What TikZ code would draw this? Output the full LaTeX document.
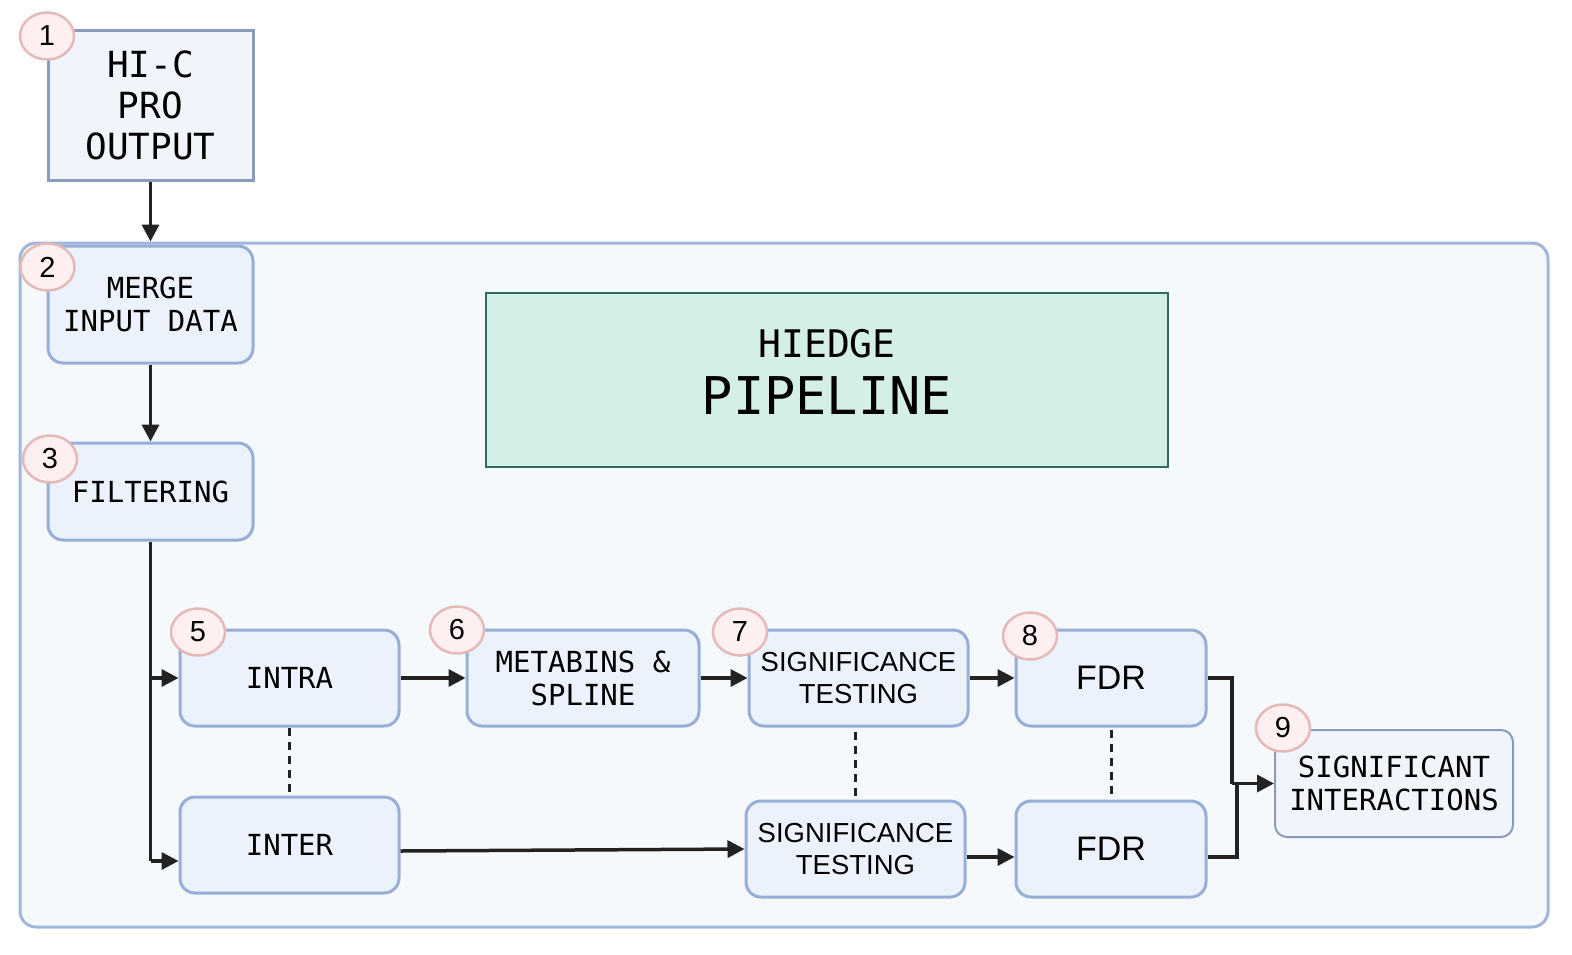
\documentclass[tikz,border=0pt]{standalone}
\usepackage{fontspec}
\setmainfont{Liberation Sans}
\setmonofont{DejaVu Sans Mono}
\usetikzlibrary{arrows.meta,shapes.geometric,calc}
\definecolor{outerfill}{HTML}{F6F9FC}
\definecolor{outerdraw}{HTML}{A0B6DA}
\definecolor{boxfill}{HTML}{ECF2FB}
\definecolor{boxdraw}{HTML}{97AFD6}
\definecolor{grayfill}{HTML}{F1F5FB}
\definecolor{graydraw}{HTML}{8A9BBD}
\definecolor{tealfill}{HTML}{D4EEE8}
\definecolor{tealdraw}{HTML}{2F6B5F}
\definecolor{badgefill}{HTML}{FEF0F0}
\definecolor{badgedraw}{HTML}{E6B9B9}
\definecolor{ink}{HTML}{222222}
\tikzset{
  monotext/.style={font=\ttfamily\fontsize{29}{33}\selectfont, align=center, text=black},
  stepbox/.style={rectangle, rounded corners=15pt, draw=boxdraw, fill=boxfill, line width=3pt, monotext},
  sansbox/.style={stepbox, font=\fontsize{27.5}{32}\selectfont},
  fdrbox/.style={stepbox, font=\fontsize{34}{36}\selectfont},
  badge/.style={ellipse, draw=badgedraw, fill=badgefill, line width=2.5pt, minimum width=54pt, minimum height=47pt, inner sep=0pt, font=\fontsize{29}{29}\selectfont},
  arr/.style={draw=ink, line width=3.5pt, -{Triangle[length=17pt,width=17pt]}},
  conn/.style={draw=ink, line width=3.5pt},
  dashconn/.style={draw=ink, line width=3pt, dash pattern=on 8pt off 6pt},
}
\begin{document}
\begin{tikzpicture}[x=1pt,y=-1pt]
\useasboundingbox (0,0) rectangle (1572,954);
% outer container
\node[rectangle, rounded corners=16pt, draw=outerdraw, fill=outerfill, line width=3pt, minimum width=1528pt, minimum height=684pt, inner sep=0pt] (outer) at (784,585) {};
% box 1
\node[rectangle, draw=graydraw, fill=grayfill, line width=3pt, minimum width=205pt, minimum height=150pt, font=\ttfamily\fontsize{36}{41}\selectfont, align=center] (hic) at (150.5,105) {HI-C\\PRO\\OUTPUT};
% steps
\node[stepbox, minimum width=205pt, minimum height=117pt] (merge) at (150.5,304.5) {MERGE\\INPUT DATA};
\node[stepbox, minimum width=205pt, minimum height=97pt] (filt) at (150.5,491.5) {FILTERING};
\node[stepbox, minimum width=219pt, minimum height=96pt] (intra) at (289.5,678) {INTRA};
\node[stepbox, minimum width=232pt, minimum height=96pt] (meta) at (583,678) {METABINS \&\\SPLINE};
\node[sansbox, minimum width=219pt, minimum height=96pt] (sig1) at (858.5,678) {SIGNIFICANCE\\TESTING};
\node[fdrbox, minimum width=190pt, minimum height=96pt] (fdr1) at (1111,678) {FDR};
\node[stepbox, minimum width=219pt, minimum height=96pt] (inter) at (289.5,845) {INTER};
\node[sansbox, minimum width=219pt, minimum height=96pt] (sig2) at (855.5,849) {SIGNIFICANCE\\TESTING};
\node[fdrbox, minimum width=190pt, minimum height=96pt] (fdr2) at (1111,849) {FDR};
\node[rectangle, rounded corners=12pt, draw=graydraw, fill=grayfill, line width=2pt, monotext, minimum width=238pt, minimum height=107pt] (sigint) at (1394,783.5) {SIGNIFICANT\\INTERACTIONS};
% title
\node[rectangle, draw=tealdraw, fill=tealfill, line width=2pt, minimum width=682pt, minimum height=174pt] (title) at (827,380) {};
\node[font=\ttfamily\fontsize{38}{40}\selectfont] (titleA) at (827,344) {HIEDGE};
\node[font=\ttfamily\fontsize{52}{56}\selectfont] (titleB) at (827,396) {PIPELINE};
% connectors
\draw[arr] (hic.south) -- (hic.south |- outer.north);
\draw[arr] (merge.south) -- (filt.north);
\coordinate (trunkA) at (150.5,678);
\coordinate (trunkB) at (150.5,861);
\draw[conn] (filt.south) -- (trunkB);
\draw[arr] (trunkA) -- (intra.west);
\draw[arr] (trunkB) -- (inter.west |- trunkB);
\draw[arr] (intra.east) -- (meta.west);
\draw[arr] (meta.east) -- (sig1.west);
\draw[arr] (sig1.east) -- (fdr1.west);
\draw[arr] ($(inter.east)+(0,6)$) -- (sig2.west);
\draw[arr] ($(sig2.east)+(0,8)$) -- ($(fdr2.west)+(0,8)$);
\coordinate (join) at (1232,783.5);
\draw[conn] (fdr1.east) -| (join);
\draw[conn] ($(fdr2.east)+(0,8)$) -| (1237,782);
\draw[arr] (join) -- (sigint.west);
\draw[dashconn] (intra.south) -- (inter.north);
\draw[dashconn] ($(sig2.north |- sig1.south)+(0,4)$) -- ($(sig2.north)+(0,-4)$);
\draw[dashconn] ($(fdr1.south)+(0,2)$) -- ($(fdr2.north)+(0,-2)$);
% badges
\node[badge] (b1) at (47,36) {1};
\node[badge] (b2) at (47.5,267) {2};
\node[badge] (b3) at (50,459) {3};
\node[badge] (b5) at (198,632) {5};
\node[badge] (b6) at (457,630) {6};
\node[badge] (b7) at (740,632) {7};
\node[badge] (b8) at (1030,636) {8};
\node[badge] (b9) at (1283,728) {9};
\end{tikzpicture}
\end{document}
